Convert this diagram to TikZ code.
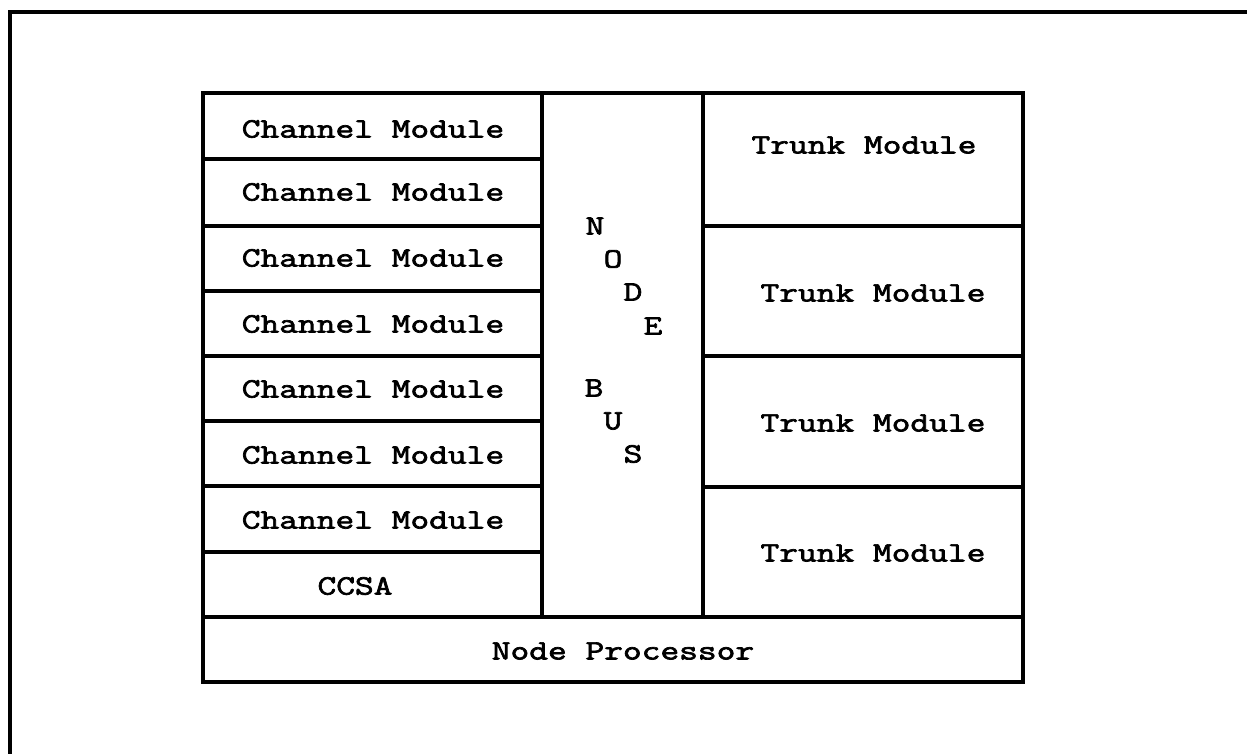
\documentclass[tikz,border=0pt]{standalone}
\usepackage{fontspec}
\setmonofont{Latin Modern Mono}[FakeStretch=1.3, FakeBold=2.5]
\begin{document}
\begin{tikzpicture}[x=0.5pt, y=-0.5pt, line width=1.6pt,
  font=\ttfamily\fontsize{14}{17}\selectfont]
  \useasboundingbox (0,0) rectangle (1247,754);
  \clip (0,0) rectangle (1247,754);

  % outer frame
  \draw[line width=2pt] (10,800) -- (10,12) -- (1300,12);

  % board
  \draw (203,93) rectangle (1023,682);
  \draw (203,617) -- (1023,617);
  \draw (542,93) -- (542,617);
  \draw (703,93) -- (703,617);

  % channel rows
  \draw (203,159) -- (542,159);
  \draw (203,226) -- (542,226);
  \draw (203,291) -- (542,291);
  \draw (203,356) -- (542,356);
  \draw (203,421) -- (542,421);
  \draw (203,486) -- (542,486);
  \draw (203,552) -- (542,552);

  % trunk rows
  \draw (703,226) -- (1023,226);
  \draw (703,356) -- (1023,356);
  \draw (703,487) -- (1023,487);

  \node (ch1) at (373,129) {Channel Module};
  \node (ch2) at (373,192) {Channel Module};
  \node (ch3) at (373,258) {Channel Module};
  \node (ch4) at (373,324) {Channel Module};
  \node (ch5) at (373,389) {Channel Module};
  \node (ch6) at (373,455) {Channel Module};
  \node (ch7) at (373,520) {Channel Module};
  \node (ccsa) at (355,586) {CCSA};

  \node (tr1) at (864,145) {Trunk Module};
  \node (tr2) at (873,293) {Trunk Module};
  \node (tr3) at (873,423) {Trunk Module};
  \node (tr4) at (873,553) {Trunk Module};

  \node (np) at (623,651) {Node Processor};

  \node (busN) at (595,226) {N};
  \node (busO) at (613,259) {O};
  \node (busD) at (633,292) {D};
  \node (busE) at (653,326) {E};
  \node (busB) at (594,388) {B};
  \node (busU) at (613,421) {U};
  \node (busS) at (633,454) {S};
\end{tikzpicture}
\end{document}
